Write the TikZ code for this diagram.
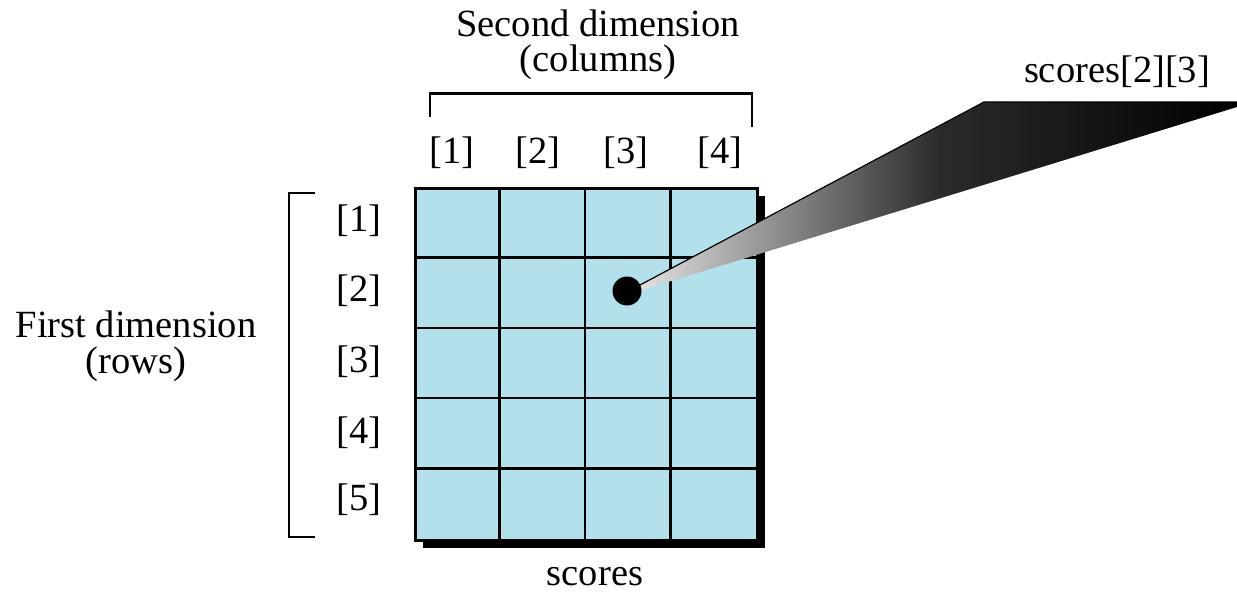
\documentclass[tikz,border=0pt]{standalone}
\usepackage{fontspec}
\setmainfont{Liberation Serif}
\definecolor{cellblue}{RGB}{178,225,236}
\begin{document}
\begin{tikzpicture}[x=1pt,y=-1pt,
  lbl/.style={inner sep=0pt,font=\fontsize{38.5}{36}\selectfont},
  gridline/.style={line width=2.5pt,black},
  brk/.style={line width=2.8pt,black}]
\useasboundingbox (0,0) rectangle (1237,594);
% shadow
\fill[black] (423,196) rectangle (765,548);
% grid
\node[draw=black,line width=2.5pt,fill=cellblue,minimum width=342pt,minimum height=352pt,inner sep=0pt,anchor=north west] (grid) at (414,187) {};
\foreach \x in {499.5,585,670.5} \draw[gridline] (\x,187) -- (\x,539);
\foreach \y in {257.4,327.8,398.2,468.6} \draw[gridline] (414,\y) -- (756,\y);
% callout wedge
\shade[left color=black!12,right color=black,middle color=black!83]
  (640,285) -- (984,102) -- (1237,102) -- (1237,107) -- (642,290) -- cycle;
\draw[line width=1.2pt] (640,285) -- (984,102) -- (1237,102);
\node[circle,fill=black,minimum size=29pt,inner sep=0pt] (dot) at (627,291) {};
% labels
\node[lbl,anchor=base] (sec1) at (598,37) {Second dimension};
\node[lbl,anchor=base] (sec2) at (598,72) {(columns)};
\node[lbl,anchor=base] (fst1) at (136,337) {First dimension};
\node[lbl,anchor=base] (fst2) at (136,373) {(rows)};
\node[lbl,anchor=base] (name) at (595,585) {scores};
\node[lbl,anchor=base] (elem) at (1117,83) {scores[2][3]};
% column indices
\node[lbl] (c1) at (452,153) {[1]};
\node[lbl] (c2) at (538,153) {[2]};
\node[lbl] (c3) at (626,153) {[3]};
\node[lbl] (c4) at (720,153) {[4]};
% row indices
\node[lbl] (r1) at (359,221) {[1]};
\node[lbl] (r2) at (359,291) {[2]};
\node[lbl] (r3) at (359,362) {[3]};
\node[lbl] (r4) at (359,433) {[4]};
\node[lbl] (r5) at (359,500) {[5]};
% brackets
\draw[brk] (430,117) -- (430,93.5) -- (752,93.5) -- (752,127);
\draw[brk] (315,193) -- (289,193) -- (289,537) -- (315,537);
\end{tikzpicture}
\end{document}
